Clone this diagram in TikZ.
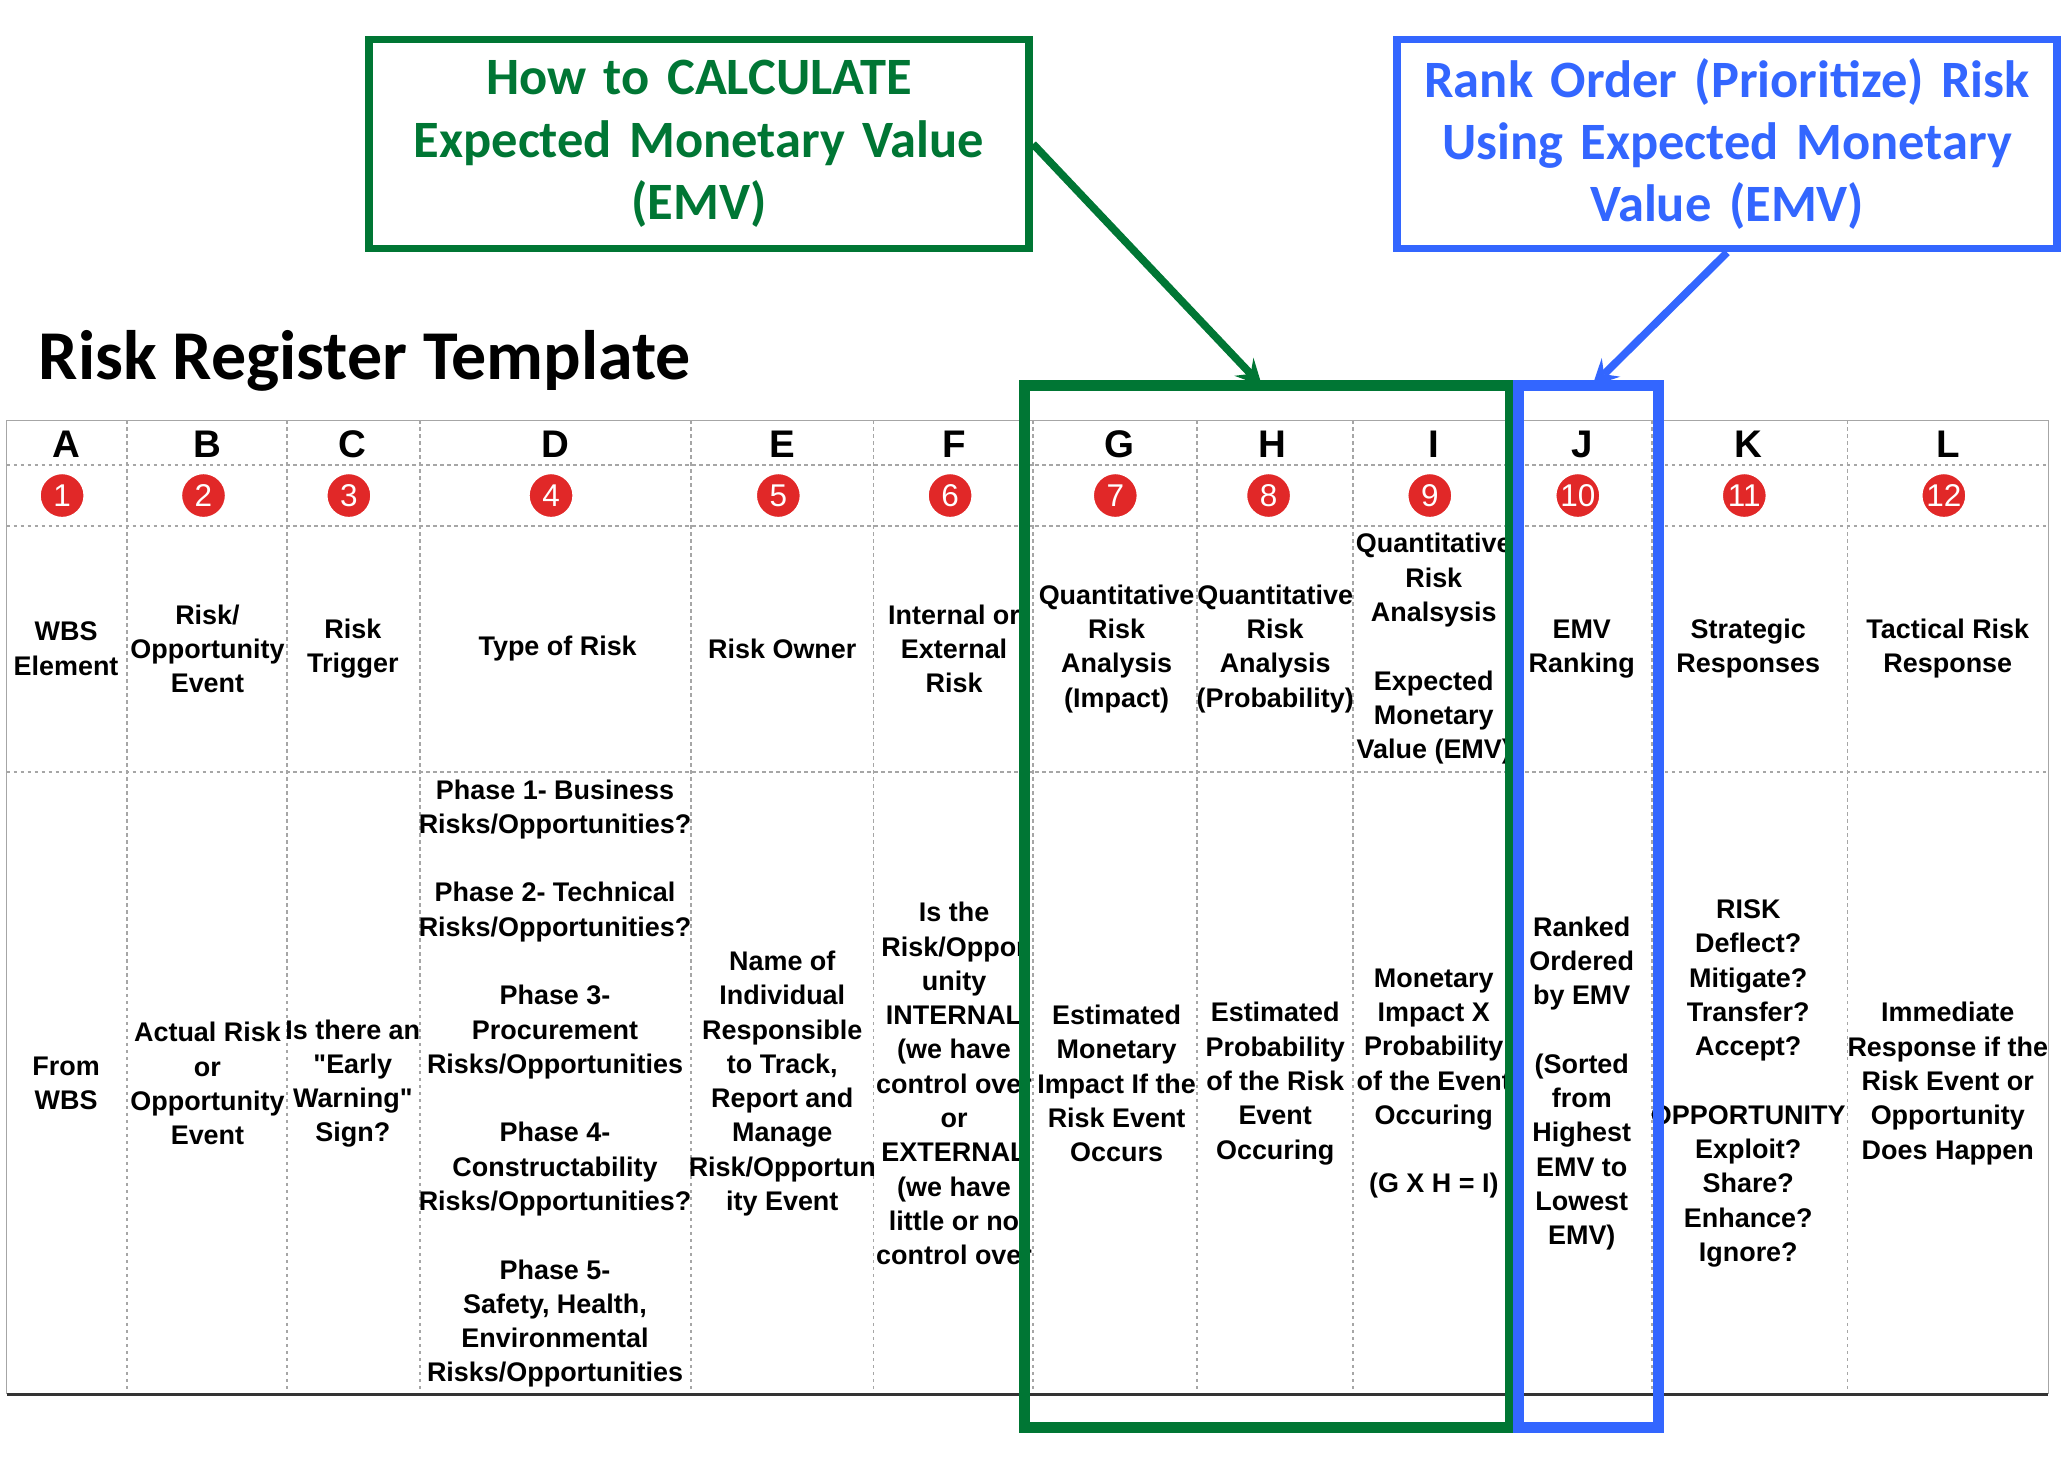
\documentclass[tikz,border=0pt]{standalone}
\usepackage{fontspec}
\setmainfont{Liberation Sans}
\newfontfamily\calib{Carlito}
\usetikzlibrary{positioning}
\definecolor{emvgreen}{RGB}{0,118,52}
\definecolor{emvblue}{RGB}{51,102,255}
\definecolor{dotred}{RGB}{225,40,40}
\tikzset{
    cell/.style={align=center, font=\bfseries\fontsize{7.7}{9.8}\selectfont, inner sep=0pt},
    numdot/.style={circle, fill=dotred, draw=white, line width=0.6pt, minimum size=0.45cm, inner sep=0pt, text=white, font=\fontsize{9}{9}\selectfont},
    callout/.style={draw, line width=2.2pt, align=center, minimum width=6.55cm, minimum height=2.1cm, text width=6.4cm, font=\calib\bfseries\fontsize{15}{17.8}\selectfont},
    grid/.style={gray!70, dash pattern=on 1pt off 1pt, line width=0.5pt}
}
\begin{document}
\begin{tikzpicture}[x=0.01328cm, y=-0.01328cm]
    \useasboundingbox (0,0) rectangle (1568,1110);
    % table lines
    \foreach \x in {96,217,318,523,661,782,906,1024,1140,1250,1398} {
        \draw[grid] (\x,318) -- (\x,1055);
    }
    \draw[gray!70] (5,318) -- (5,1055);
    \draw[gray!70] (1550,318) -- (1550,1055);
    \draw[gray!70] (5,318) -- (1550,318);
    \foreach \y in {352,398,584} {
        \draw[grid] (5,\y) -- (1550,\y);
    }
    \draw[black!80, line width=0.8pt] (5,1055) -- (1550,1055);
    % letters and numbers
    \foreach \l/\x/\n in {A/50/1,B/157/2,C/267/3,D/420/4,E/592/5,F/722/6,G/847/7,H/963/8,I/1085/9,J/1197/10,K/1323/11,L/1474/12} {
        \node[font=\bfseries\fontsize{11}{11}\selectfont] (let\n) at (\x,336) {\l};
        \node[numdot] (num\n) at (\x-3,375) {\n};
    }
    % header row
    \node[cell] (h1) at (50,491) {WBS\\Element};
    \node[cell] (h2) at (157,491) {Risk/\\Opportunity\\Event};
    \node[cell] (h3) at (267,491) {Risk\\Trigger};
    \node[cell] (h4) at (422,491) {Type of Risk};
    \node[cell] (h5) at (592,491) {Risk Owner};
    \node[cell] (h6) at (722,491) {Internal or\\External\\Risk};
    \node[cell] (h7) at (845,491) {Quantitative\\Risk\\Analysis\\(Impact)};
    \node[cell] (h8) at (965,491) {Quantitative\\Risk\\Analysis\\(Probability)};
    \node[cell] (h9) at (1085,491) {Quantitative\\Risk\\Analsysis\\[\baselineskip]Expected\\Monetary\\Value (EMV)};
    \node[cell] (h10) at (1197,491) {EMV\\Ranking};
    \node[cell] (h11) at (1323,491) {Strategic\\Responses};
    \node[cell] (h12) at (1474,491) {Tactical Risk\\Response};
    % body row
    \node[cell] (b1) at (50,820) {From\\WBS};
    \node[cell] (b2) at (157,820) {Actual Risk\\or\\Opportunity\\Event};
    \node[cell] (b3) at (267,820) {Is there an\\\textquotedbl Early\\Warning\textquotedbl\\Sign?};
    \node[cell] (b4) at (420,820) {Phase 1- Business\\Risks/Opportunities?\\[\baselineskip]Phase 2- Technical\\Risks/Opportunities?\\[\baselineskip]Phase 3-\\Procurement\\Risks/Opportunities\\[\baselineskip]Phase 4-\\Constructability\\Risks/Opportunities?\\[\baselineskip]Phase 5-\\Safety, Health,\\Environmental\\Risks/Opportunities};
    \node[cell] (b5) at (592,820) {Name of\\Individual\\Responsible\\to Track,\\Report and\\Manage\\Risk/Opportun\\ity Event};
    \node[cell] (b6) at (722,820) {Is the\\Risk/Oppor\\unity\\INTERNAL\\(we have\\control over\\or\\EXTERNAL\\(we have\\little or no\\control over};
    \node[cell] (b7) at (845,820) {Estimated\\Monetary\\Impact If the\\Risk Event\\Occurs};
    \node[cell] (b8) at (965,820) {Estimated\\Probability\\of the Risk\\Event\\Occuring};
    \node[cell] (b9) at (1085,820) {Monetary\\Impact X\\Probability\\of the Event\\Occuring\\[\baselineskip](G X H = I)};
    \node[cell] (b10) at (1197,820) {Ranked\\Ordered\\by EMV\\[\baselineskip](Sorted\\from\\Highest\\EMV to\\Lowest\\EMV)};
    \node[cell] (b11) at (1323,820) {RISK\\Deflect?\\Mitigate?\\Transfer?\\Accept?\\[\baselineskip]OPPORTUNITY\\Exploit?\\Share?\\Enhance?\\Ignore?};
    \node[cell] (b12) at (1474,820) {Immediate\\Response if the\\Risk Event or\\Opportunity\\Does Happen};
    % title
    \node[anchor=west, font=\calib\bfseries\fontsize{20}{20}\selectfont] (title) at (20,273) {Risk Register Template};
    % highlight frames
    \draw[emvgreen, line width=3.2pt] (775,292) rectangle (1143,1080);
    \draw[emvblue, line width=3.2pt] (1149,292) rectangle (1255,1080);
    \coordinate (gtop) at (955,292);
    \coordinate (btop) at (1205,292);
    % callouts
    \node[callout, draw=emvgreen, text=emvgreen] (calc) at (529,109) {How to CALCULATE\\Expected Monetary Value\\(EMV)};
    \node[callout, draw=emvblue, text=emvblue] (rank) at (1307,109) {Rank Order (Prioritize) Risk\\Using Expected Monetary\\Value (EMV)};
    \draw[emvgreen, line width=2.2pt, -stealth] (calc.east) -- (gtop);
    \draw[emvblue, line width=2.2pt, -stealth] (rank.south) -- (btop);
\end{tikzpicture}
\end{document}
